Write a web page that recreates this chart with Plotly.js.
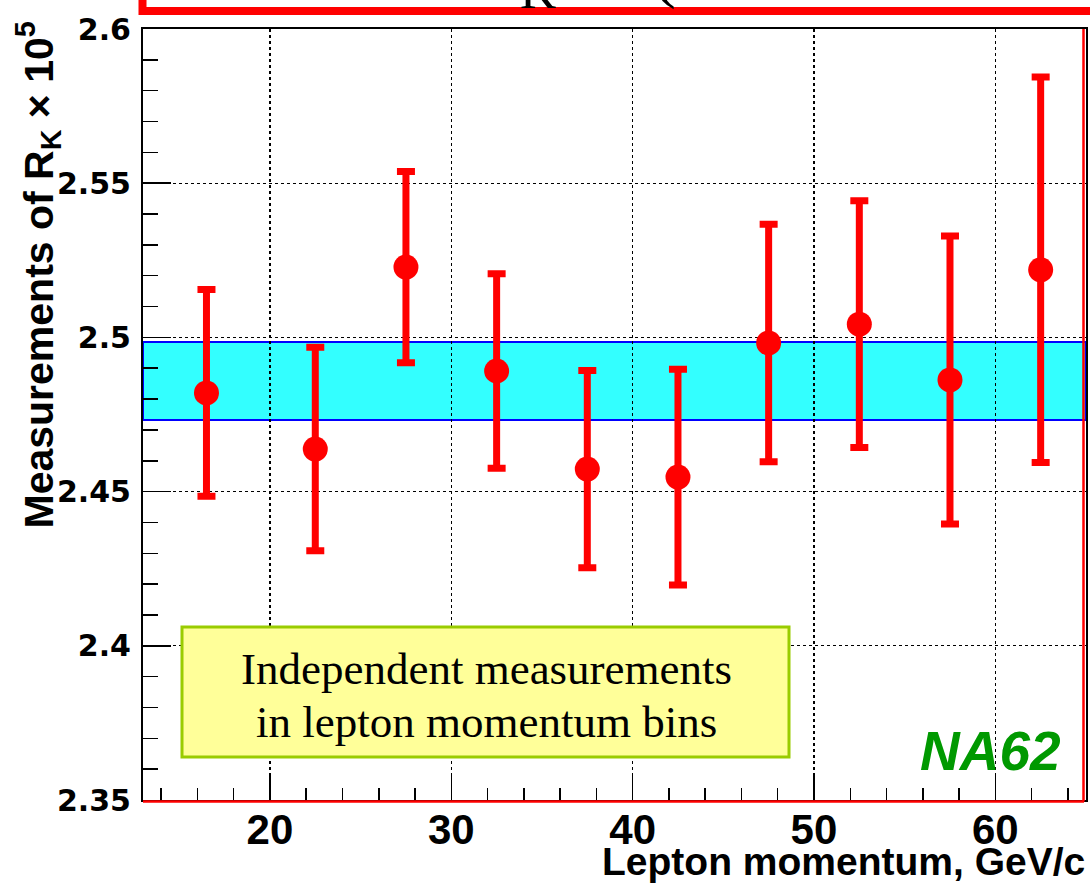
<!DOCTYPE html>
<html>
<head>
<meta charset="utf-8">
<script src="https://cdn.plot.ly/plotly-3.0.1.min.js"></script>
<style>html,body{margin:0;padding:0;background:#fff;}#chart{width:1090px;height:883px;}</style>
</head>
<body>
<div id="chart"></div>
<script>
// Data
const momentumBins = [16.5, 22.5, 27.5, 32.5, 37.5, 42.5, 47.5, 52.5, 57.5, 62.5];
const rkValues     = [2.482, 2.4638, 2.5228, 2.4891, 2.4573, 2.4547, 2.4982, 2.5043, 2.4862, 2.5219];
const rkErrors     = [0.0335, 0.0330, 0.0310, 0.0315, 0.0320, 0.0350, 0.0385, 0.0400, 0.0467, 0.0625];
const bandLow  = 2.4732;
const bandHigh = 2.4985;
const xRange = [13, 65];
const yRange = [2.35, 2.6];
const xTickVals = [20, 30, 40, 50, 60];
const yTickVals = [2.35, 2.4, 2.45, 2.5, 2.55, 2.6];
const yTickText = ['2.35', '2.4', '2.45', '2.5', '2.55', '2.6'];

// pixel helpers for paper coordinates (plot area 143..1086 x 29..800)
const L = 143, R = 1086, T = 29, B = 800;
const px = x => (x - L) / (R - L);
const py = y => (B - y) / (B - T);

const trace = {
  x: momentumBins,
  y: rkValues,
  type: 'scatter',
  mode: 'markers',
  marker: {color: '#ff0000', size: 25, symbol: 'circle', line: {width: 0}},
  error_y: {type: 'data', array: rkErrors, visible: true, color: '#ff0000', thickness: 7, width: 9},
  hoverinfo: 'x+y',
  showlegend: false
};

const layout = {
  width: 1090, height: 883,
  margin: {l: L, r: 1090 - R, t: T, b: 883 - B, pad: 0},
  paper_bgcolor: '#ffffff',
  plot_bgcolor: '#ffffff',
  showlegend: false,
  xaxis: {
    range: xRange, tickmode: 'array', tickvals: xTickVals,
    ticks: 'inside', ticklen: 24, tickwidth: 1.5, tickcolor: '#000',
    showline: true, linecolor: '#000', linewidth: 2, mirror: true,
    showgrid: true, gridcolor: '#000', griddash: 'dot', gridwidth: 1.2,
    zeroline: false,
    tickfont: {family: 'Liberation Sans, Arial', size: 42, color: '#000', weight: 'bold'},
    ticklabelstandoff: -8,
    minor: {dtick: 2, tick0: 0, ticks: 'inside', ticklen: 12, tickwidth: 1.5, tickcolor: '#000', showgrid: false}
  },
  yaxis: {
    range: yRange, tickmode: 'array', tickvals: yTickVals, ticktext: yTickText,
    ticks: 'inside', ticklen: 28, tickwidth: 1.5, tickcolor: '#000',
    showline: true, linecolor: '#000', linewidth: 2, mirror: true,
    showgrid: true, gridcolor: '#000', griddash: 'dot', gridwidth: 1.2,
    zeroline: false,
    tickfont: {family: 'DejaVu Sans', size: 30, color: '#000', weight: 'bold'},
    ticklabelstandoff: 4,
    minor: {dtick: 0.01, tick0: 2.35, ticks: 'inside', ticklen: 15, tickwidth: 1.5, tickcolor: '#000', showgrid: false}
  },
  shapes: [
    // combined measurement band
    {type: 'rect', xref: 'paper', yref: 'y', x0: 0, x1: 1, y0: bandLow, y1: bandHigh,
     fillcolor: '#33ffff', line: {color: '#0000ff', width: 2}, layer: 'between'},
    // yellow text box
    {type: 'rect', xref: 'paper', yref: 'paper', x0: px(182), x1: px(789), y0: py(757), y1: py(627),
     fillcolor: '#ffff99', line: {color: '#99cc00', width: 3}, layer: 'above'},
    // red frame lines around plot (right & bottom)
    {type: 'line', xref: 'paper', yref: 'paper', x0: px(1083.5), x1: px(1083.5), y0: py(801.5), y1: py(29),
     line: {color: '#ff0000', width: 2.5}, layer: 'above'},
    {type: 'line', xref: 'paper', yref: 'paper', x0: 0, x1: px(1084), y0: py(801.5), y1: py(801.5),
     line: {color: '#ff0000', width: 2.5}, layer: 'above'},
    // slide title frame (cut off at top)
    {type: 'rect', xref: 'paper', yref: 'paper', x0: px(142.5), x1: px(1100), y0: py(11), y1: py(-40),
     fillcolor: 'rgba(0,0,0,0)', line: {color: '#ff0000', width: 8}, layer: 'above'}
  ],
  annotations: [
    {text: 'Measurements of R<sub>K</sub> × 10<sup>5</sup>', textangle: -90,
     xref: 'paper', yref: 'paper', x: px(38), y: py(20), xanchor: 'center', yanchor: 'top',
     showarrow: false, font: {family: 'Liberation Sans, Arial', size: 41, color: '#000', weight: 'bold'}},
    {text: 'Lepton momentum, GeV/c',
     xref: 'paper', yref: 'paper', x: px(1087), y: py(861), xanchor: 'right', yanchor: 'middle',
     showarrow: false, font: {family: 'Liberation Sans, Arial', size: 39, color: '#000', weight: 'bold'}},
    {text: 'Independent measurements',
     xref: 'paper', yref: 'paper', x: px(486), y: py(669), xanchor: 'center', yanchor: 'middle',
     showarrow: false, font: {family: 'Liberation Serif, Times New Roman', size: 45, color: '#000'}},
    {text: 'in lepton momentum bins',
     xref: 'paper', yref: 'paper', x: px(486), y: py(722), xanchor: 'center', yanchor: 'middle',
     showarrow: false, font: {family: 'Liberation Serif, Times New Roman', size: 45, color: '#000'}},
    {text: 'NA62',
     xref: 'paper', yref: 'paper', x: px(990), y: py(751), xanchor: 'center', yanchor: 'middle',
     showarrow: false, font: {family: 'Liberation Sans, Arial', size: 55, color: '#009900', weight: 'bold', style: 'italic'}},
    {text: 'R<sub>K</sub>',
     xref: 'paper', yref: 'paper', x: px(470), y: py(21), xanchor: 'left', yanchor: 'bottom',
     showarrow: false, font: {family: 'Liberation Serif, Times New Roman', size: 72, color: '#000'}},
    {text: '(',
     xref: 'paper', yref: 'paper', x: px(650), y: py(12), xanchor: 'left', yanchor: 'bottom',
     showarrow: false, font: {family: 'Liberation Serif, Times New Roman', size: 72, color: '#000'}}
  ]
};

Plotly.newPlot('chart', [trace], layout, {displayModeBar: false, staticPlot: true});
</script>
</body>
</html>
